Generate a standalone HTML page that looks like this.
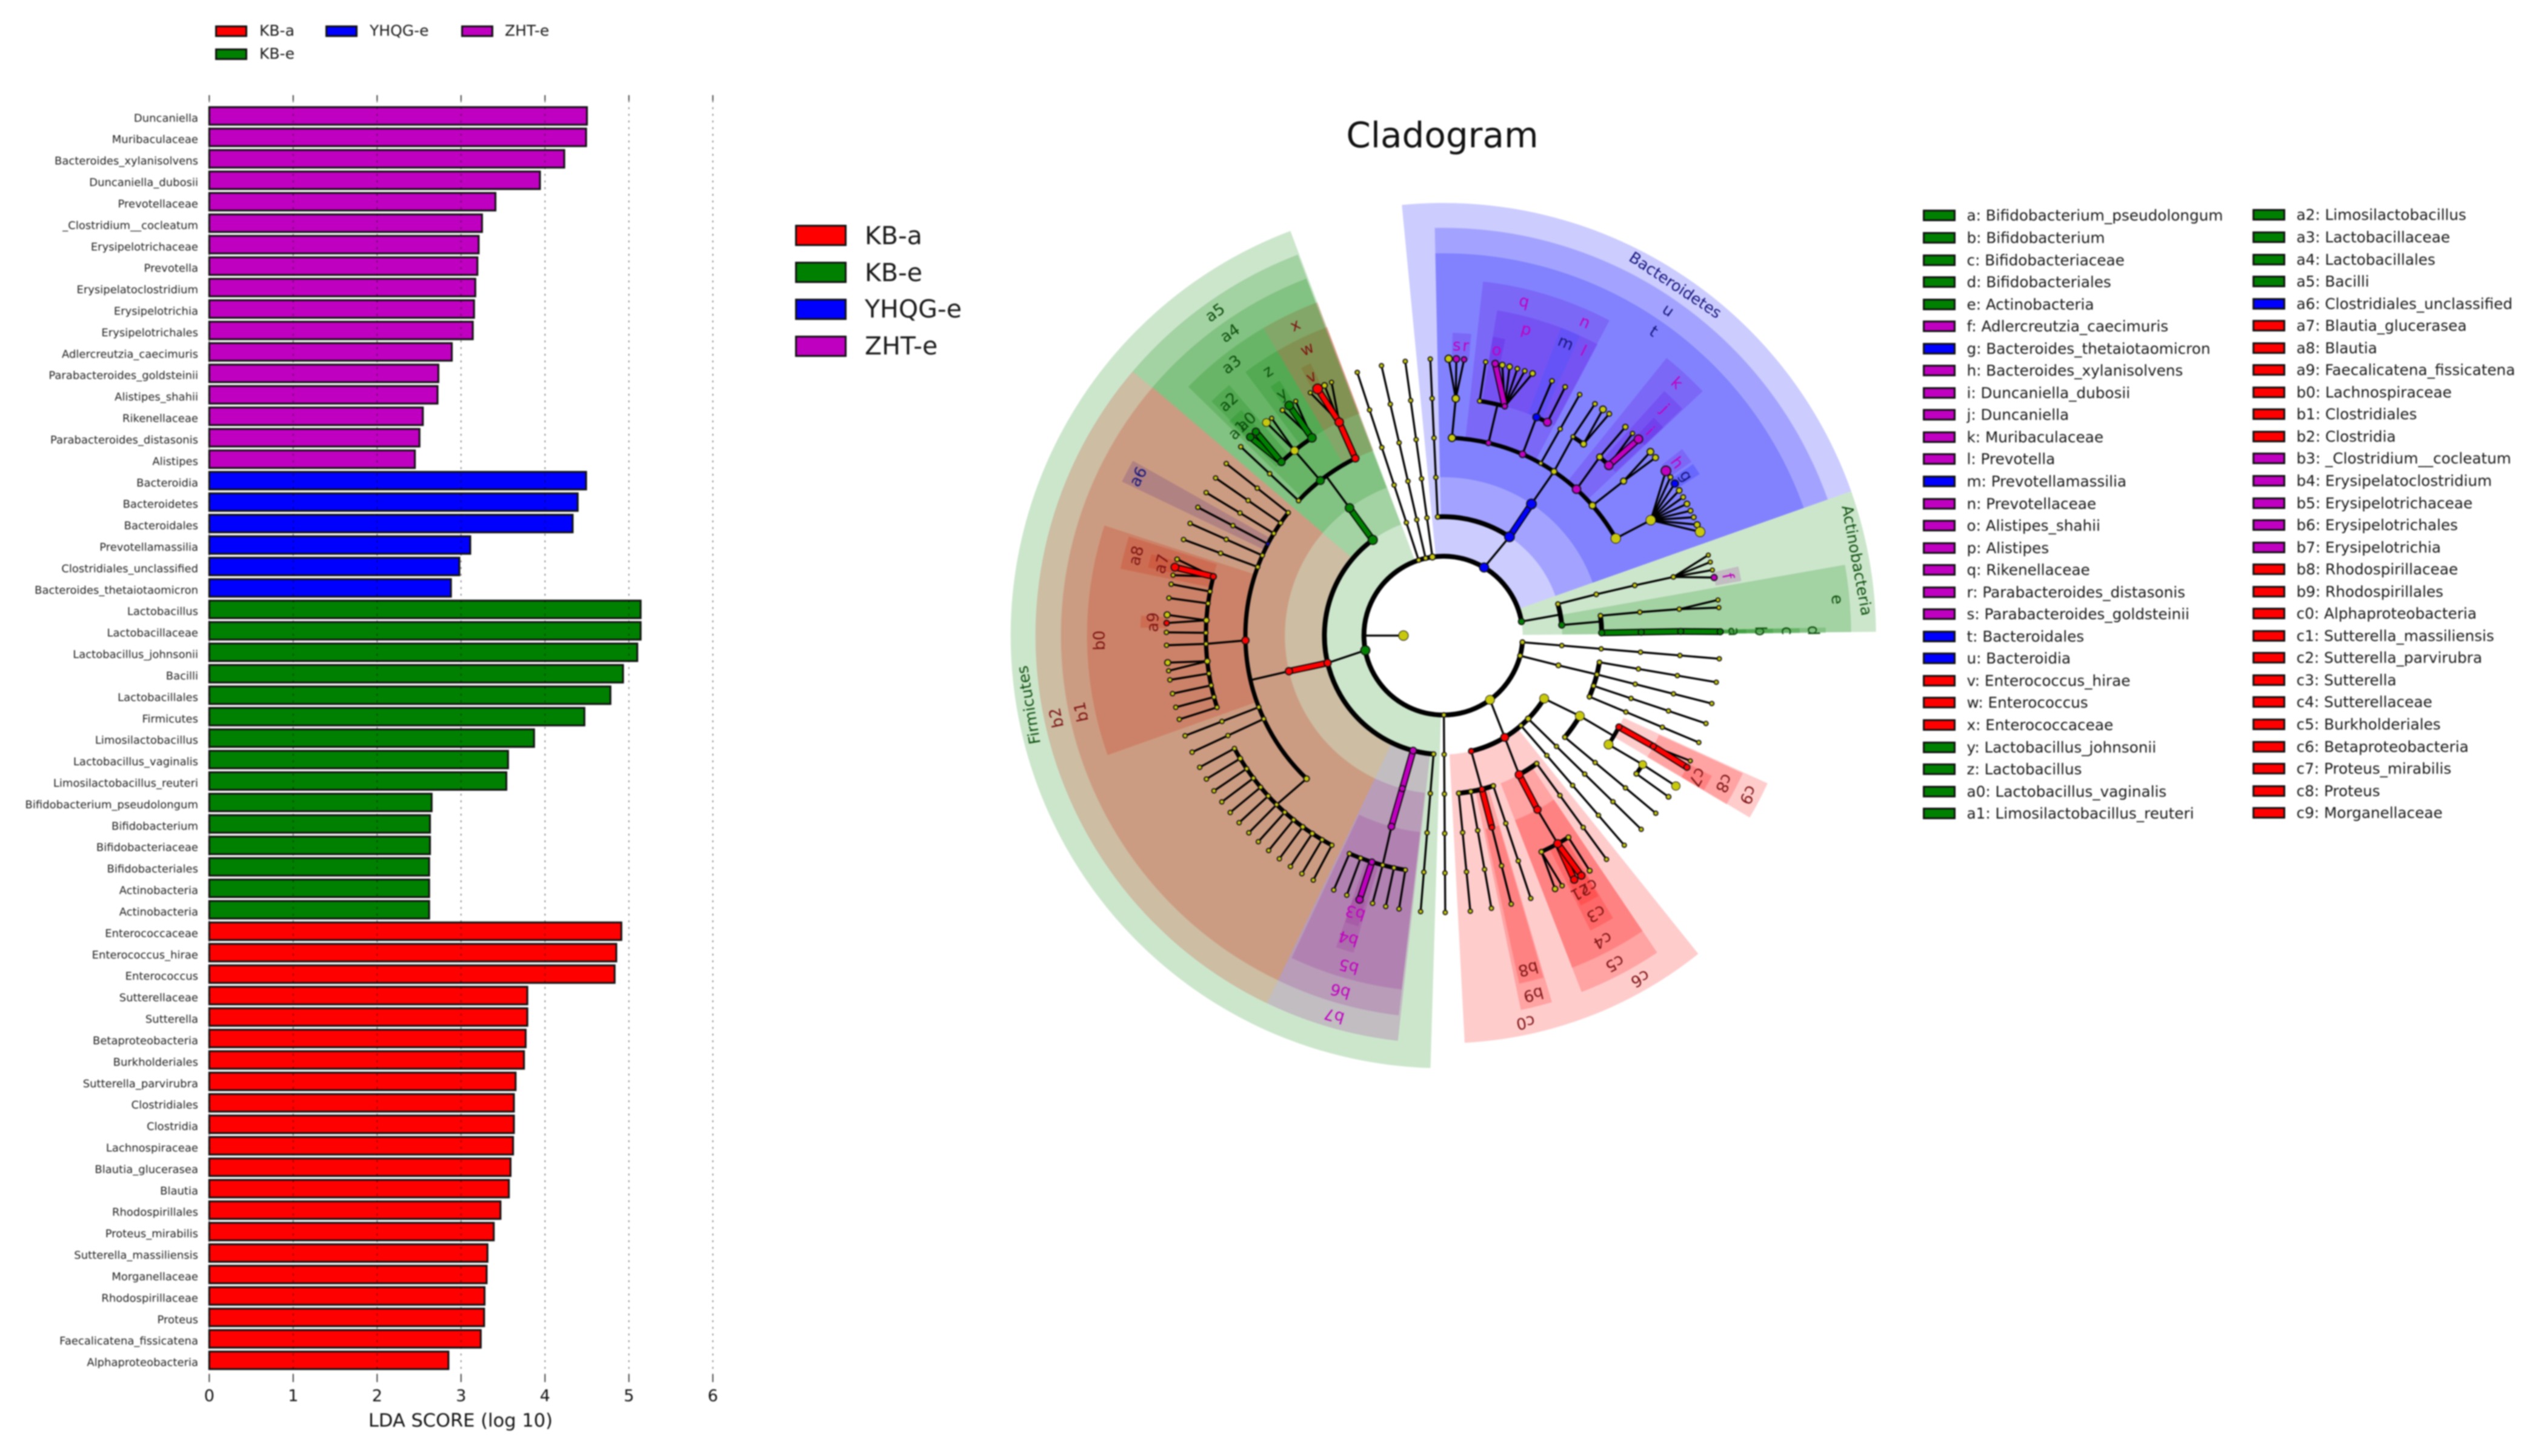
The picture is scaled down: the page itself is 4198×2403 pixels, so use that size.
<!DOCTYPE html>
<html lang="en">
<head>
<meta charset="utf-8">
<title>LEfSe LDA scores and cladogram</title>
<style>
html,body{margin:0;padding:0;background:#fff;}
#page{position:relative;width:4198px;height:2403px;overflow:hidden;background:#fff;filter:blur(1.1px);font-family:"DejaVu Sans","Liberation Sans",sans-serif;color:#1a1a1a;}
svg{position:absolute;left:0;top:0;}
.k{position:absolute;}
.sw{display:inline-block;box-sizing:border-box;border:3px solid #111;}
.r{background:#ff0000}.g{background:#008000}.b{background:#0000ff}.m{background:#c000c0}
.toplg{position:absolute;font-size:25px;line-height:24px;white-space:nowrap;}
.toplg .sw{position:absolute;left:0;top:0;width:53px;height:19px;}
.midlg{position:absolute;left:1312px;top:358.6px;font-size:41px;}
.midlg div{height:60.7px;display:flex;align-items:center;white-space:nowrap;}
.midlg .sw{width:85px;height:35px;margin-right:30px;}
.col{position:absolute;font-size:24.7px;}
.col div{height:36.55px;display:flex;align-items:center;white-space:nowrap;}
.col .sw{width:54px;height:19px;margin-right:18.5px;flex:none;}
</style>
</head>
<body>
<div id="page">
<svg id="chart" width="4198" height="2403" viewBox="0 0 4198 2403" xmlns="http://www.w3.org/2000/svg">
  <g id="bars"></g>
  <text x="760" y="2345" font-size="30.5" text-anchor="middle" dominant-baseline="central" fill="#111">LDA SCORE (log 10)</text>
  <text x="2380" y="223" font-size="58" text-anchor="middle" dominant-baseline="central" fill="#111">Cladogram</text>
  <g id="clado"></g>
</svg>

<div>
  <div class="toplg" style="left:355px;top:42px;height:20px"><span class="sw r"></span><span style="position:absolute;left:73px;top:-3px">KB-a</span></div>
  <div class="toplg" style="left:355px;top:80px;height:20px"><span class="sw g"></span><span style="position:absolute;left:73px;top:-3px">KB-e</span></div>
  <div class="toplg" style="left:537px;top:42px;height:20px"><span class="sw b"></span><span style="position:absolute;left:73px;top:-3px">YHQG-e</span></div>
  <div class="toplg" style="left:761px;top:42px;height:20px"><span class="sw m"></span><span style="position:absolute;left:72px;top:-3px">ZHT-e</span></div>
</div>

<div class="midlg">
  <div><span class="sw r"></span>KB-a</div>
  <div><span class="sw g"></span>KB-e</div>
  <div><span class="sw b"></span>YHQG-e</div>
  <div><span class="sw m"></span>ZHT-e</div>
</div>

<div class="col" style="left:3173px;top:337.7px">
  <div><span class="sw g"></span>a: Bifidobacterium_pseudolongum</div>
  <div><span class="sw g"></span>b: Bifidobacterium</div>
  <div><span class="sw g"></span>c: Bifidobacteriaceae</div>
  <div><span class="sw g"></span>d: Bifidobacteriales</div>
  <div><span class="sw g"></span>e: Actinobacteria</div>
  <div><span class="sw m"></span>f: Adlercreutzia_caecimuris</div>
  <div><span class="sw b"></span>g: Bacteroides_thetaiotaomicron</div>
  <div><span class="sw m"></span>h: Bacteroides_xylanisolvens</div>
  <div><span class="sw m"></span>i: Duncaniella_dubosii</div>
  <div><span class="sw m"></span>j: Duncaniella</div>
  <div><span class="sw m"></span>k: Muribaculaceae</div>
  <div><span class="sw m"></span>l: Prevotella</div>
  <div><span class="sw b"></span>m: Prevotellamassilia</div>
  <div><span class="sw m"></span>n: Prevotellaceae</div>
  <div><span class="sw m"></span>o: Alistipes_shahii</div>
  <div><span class="sw m"></span>p: Alistipes</div>
  <div><span class="sw m"></span>q: Rikenellaceae</div>
  <div><span class="sw m"></span>r: Parabacteroides_distasonis</div>
  <div><span class="sw m"></span>s: Parabacteroides_goldsteinii</div>
  <div><span class="sw b"></span>t: Bacteroidales</div>
  <div><span class="sw b"></span>u: Bacteroidia</div>
  <div><span class="sw r"></span>v: Enterococcus_hirae</div>
  <div><span class="sw r"></span>w: Enterococcus</div>
  <div><span class="sw r"></span>x: Enterococcaceae</div>
  <div><span class="sw g"></span>y: Lactobacillus_johnsonii</div>
  <div><span class="sw g"></span>z: Lactobacillus</div>
  <div><span class="sw g"></span>a0: Lactobacillus_vaginalis</div>
  <div><span class="sw g"></span>a1: Limosilactobacillus_reuteri</div>
</div>

<div class="col" style="left:3717px;top:336.7px">
  <div><span class="sw g"></span>a2: Limosilactobacillus</div>
  <div><span class="sw g"></span>a3: Lactobacillaceae</div>
  <div><span class="sw g"></span>a4: Lactobacillales</div>
  <div><span class="sw g"></span>a5: Bacilli</div>
  <div><span class="sw b"></span>a6: Clostridiales_unclassified</div>
  <div><span class="sw r"></span>a7: Blautia_glucerasea</div>
  <div><span class="sw r"></span>a8: Blautia</div>
  <div><span class="sw r"></span>a9: Faecalicatena_fissicatena</div>
  <div><span class="sw r"></span>b0: Lachnospiraceae</div>
  <div><span class="sw r"></span>b1: Clostridiales</div>
  <div><span class="sw r"></span>b2: Clostridia</div>
  <div><span class="sw m"></span>b3: _Clostridium__cocleatum</div>
  <div><span class="sw m"></span>b4: Erysipelatoclostridium</div>
  <div><span class="sw m"></span>b5: Erysipelotrichaceae</div>
  <div><span class="sw m"></span>b6: Erysipelotrichales</div>
  <div><span class="sw m"></span>b7: Erysipelotrichia</div>
  <div><span class="sw r"></span>b8: Rhodospirillaceae</div>
  <div><span class="sw r"></span>b9: Rhodospirillales</div>
  <div><span class="sw r"></span>c0: Alphaproteobacteria</div>
  <div><span class="sw r"></span>c1: Sutterella_massiliensis</div>
  <div><span class="sw r"></span>c2: Sutterella_parvirubra</div>
  <div><span class="sw r"></span>c3: Sutterella</div>
  <div><span class="sw r"></span>c4: Sutterellaceae</div>
  <div><span class="sw r"></span>c5: Burkholderiales</div>
  <div><span class="sw r"></span>c6: Betaproteobacteria</div>
  <div><span class="sw r"></span>c7: Proteus_mirabilis</div>
  <div><span class="sw r"></span>c8: Proteus</div>
  <div><span class="sw r"></span>c9: Morganellaceae</div>
</div>
</div>

<script>
/* ---------- LDA bar chart data ---------- */
const barLabels = ["Duncaniella","Muribaculaceae","Bacteroides_xylanisolvens","Duncaniella_dubosii","Prevotellaceae","_Clostridium__cocleatum","Erysipelotrichaceae","Prevotella","Erysipelatoclostridium","Erysipelotrichia","Erysipelotrichales","Adlercreutzia_caecimuris","Parabacteroides_goldsteinii","Alistipes_shahii","Rikenellaceae","Parabacteroides_distasonis","Alistipes","Bacteroidia","Bacteroidetes","Bacteroidales","Prevotellamassilia","Clostridiales_unclassified","Bacteroides_thetaiotaomicron","Lactobacillus","Lactobacillaceae","Lactobacillus_johnsonii","Bacilli","Lactobacillales","Firmicutes","Limosilactobacillus","Lactobacillus_vaginalis","Limosilactobacillus_reuteri","Bifidobacterium_pseudolongum","Bifidobacterium","Bifidobacteriaceae","Bifidobacteriales","Actinobacteria","Actinobacteria","Enterococcaceae","Enterococcus_hirae","Enterococcus","Sutterellaceae","Sutterella","Betaproteobacteria","Burkholderiales","Sutterella_parvirubra","Clostridiales","Clostridia","Lachnospiraceae","Blautia_glucerasea","Blautia","Rhodospirillales","Proteus_mirabilis","Sutterella_massiliensis","Morganellaceae","Rhodospirillaceae","Proteus","Faecalicatena_fissicatena","Alphaproteobacteria"];
const barValues = [4.50,4.49,4.23,3.94,3.41,3.25,3.21,3.195,3.17,3.155,3.14,2.89,2.73,2.72,2.545,2.505,2.45,4.49,4.39,4.33,3.11,2.98,2.88,5.14,5.14,5.10,4.93,4.78,4.47,3.87,3.56,3.54,2.65,2.63,2.63,2.62,2.62,2.62,4.91,4.85,4.83,3.79,3.79,3.77,3.75,3.65,3.63,3.63,3.62,3.59,3.57,3.47,3.39,3.315,3.305,3.28,3.275,3.235,2.85];
const barGroups = ["m","m","m","m","m","m","m","m","m","m","m","m","m","m","m","m","m","b","b","b","b","b","b","g","g","g","g","g","g","g","g","g","g","g","g","g","g","g","r","r","r","r","r","r","r","r","r","r","r","r","r","r","r","r","r","r","r","r","r"];
const tickValues = [0,1,2,3,4,5,6];

/* ---------- Cladogram data: angles in degrees clockwise from 12 o'clock ---------- */
/* Highlight wedges: [label, taxonomic level, start angle, end angle, group] */
const wedgeRows = [
 ["Firmicutes",0,181.7,339.3,"g"],["Bacteroidetes",0,-5.5,70.5,"b",33.5],["Actinobacteria",0,70.5,89.5,"g",79.7],
 ["a5",1,310.4,339.1,"g"],["b2",1,205.6,310.4,"r"],["b7",1,186.4,205.6,"m"],["u",1,-1.2,70.5,"b"],["e",1,80,89.5,"g"],["c6",1,141.3,159,"r"],["c0",1,159,177,"r"],
 ["t",2,-1.2,70.5,"b"],["a4",2,310.6,339,"g"],["b1",2,205.6,310.6,"r"],["b6",2,186.7,205.6,"m"],["d",2,88.8,89.6,"g"],["b9",2,163.5,168.3,"r"],["c5",2,146,158.8,"r"],
 ["q",3,6.4,20.8,"m"],["n",3,20.8,27.8,"m"],["k",3,38.8,46.7,"m"],["x",3,329.7,339.3,"r"],["a3",3,314.3,329.7,"g"],["b0",3,250.4,288,"r"],["a6",3,295.6,299.4,"b"],["b5",3,186.7,205.2,"m"],["b8",3,163.7,167.7,"r"],["c4",3,146,158.8,"r"],["c9",3,114.5,120.7,"r"],["c",3,88.8,89.6,"g"],
 ["p",4,9.4,20.9,"m"],["m",4,20.9,24.5,"b"],["l",4,24.5,27.9,"m"],["j",4,42.1,46.5,"m"],["w",4,329.8,339.4,"r"],["z",4,323.1,329.8,"g"],["a2",4,315.3,319.5,"g"],["a8",4,281.7,287.5,"r"],["c3",4,149,153.5,"r"],["b4",4,195.8,199,"m"],["c8",4,114.7,120.8,"r"],["b",4,88.8,89.6,"g"],
 ["s",5,1.75,3.55,"m"],["r",5,3.55,5.3,"m"],["o",5,9.4,11.8,"m"],["i",5,44,46.6,"m"],["h",5,52,55,"m"],["g",5,55.5,57.8,"b"],["f",5,76.8,79.6,"m"],["v",5,332,334,"r"],["y",5,325.2,327.3,"g"],["a0",5,316.6,318.2,"g"],["a1",5,315,316.6,"g",315],["a7",5,283,285.6,"r"],["a9",5,271.5,273.8,"r"],["b3",5,196.3,198.9,"m"],["c1",5,150.95,153,"r"],["c2",5,149.2,150.95,"r"],["c7",5,117.6,120.7,"r"],["a",5,88.8,89.6,"g"]
];
/* Taxon tree: [id, parent id, angle, group (y = not significant), marker size, flags]
   flags: T = thick significant branch from parent, C = unbranched chain out to species level, I = inner stub */
const cladeRows = [
 ["R0","",270,"y",8,"I"],["P1","",94.8,"y",4,"C"],["P2","",104.7,"y",4,""],["P3","",144,"y",7.5,""],["P4","",179.6,"y",3.8,"C"],
 ["FI","",259.3,"g",7.5,""],["X1","",341.9,"y",3.8,"C"],["X2","",347.1,"y",3.8,"C"],["X3","",352.1,"y",5,"C"],["BA","",30.9,"b",7.5,""],["AC","",79.8,"g",5,""],
 /* unclassified branch */
 ["p2a","P2",104.5,"y",4,""],["","p2a",99.7,"y",3.8,"C"],["","p2a",104.2,"y",3.8,"C"],["","p2a",108.5,"y",3.8,"C"],["","p2a",112.7,"y",3.8,"C"],
 /* Proteobacteria */
 ["c0","P3",166.4,"r",4.5,""],["c6","P3",148.9,"r",6.5,""],["","P3",139.2,"y",3.6,"C"],["","P3",134.4,"y",4.6,"C"],["gm","P3",122,"y",7.5,""],
 ["","c0",174.4,"y",3.8,"C"],["","c0",170,"y",3.8,"C"],["b9","c0",165.9,"r",4.5,""],["","c0",161.6,"y",3.8,"C"],["b8","b9",165.8,"r",4.5,"TC"],
 ["c5","c6",151.4,"r",6.5,""],["","c6",143.9,"y",3.8,"C"],["c4","c5",151.6,"r",6,"T"],["c3","c4",151.2,"r",6.5,""],["pa","c4",155.6,"y",4,""],["pb","c4",148.2,"y",4,""],
 ["c1","c3",151.8,"r",6,"T"],["c2","c3",150.1,"r",6,"T"],["","pa",156.2,"y",4.5,""],["","pa",154.6,"y",3.6,""],["","pb",148.1,"y",4,""],
 ["gm2","gm",120.5,"y",7.5,""],["","gm",129.9,"y",3.8,"C"],["c9","gm2",117.5,"r",5,""],["en","gm2",123.4,"y",7.5,""],
 ["c8","c9",117.8,"r",5,"T"],["c7","c8",118.4,"r",5,"T"],["","c8",116.9,"y",3.4,""],["e1","en",122.9,"y",6.5,""],["e2","en",125.6,"y",4,""],["","e1",122.9,"y",7,""],["","e2",125.6,"y",4,""],
 /* Firmicutes */
 ["b2","FI",256.7,"r",6,""],["","FI",184.7,"y",3.8,"C"],["b7","FI",194.7,"m",5.5,""],["a5","FI",323.6,"g",7.5,""],
 ["b6","b7",195,"m",5,"T"],["b5","b6",195.2,"m",5.5,"T"],
 ["","b5",203.3,"y",3.6,"C"],["","b5",200.4,"y",3.6,"C"],["b4","b5",197.5,"m",5,""],["","b5",194.8,"y",3.6,"C"],["","b5",192,"y",3.6,"C"],["","b5",189.2,"y",3.6,"C"],["b3","b4",197.6,"m",6,"T"],
 ["b1","b2",257,"r",6,"T"],
 ["","b1",308.4,"y",3.6,"C"],["","b1",304.7,"y",3.6,"C"],["","b1",301.1,"y",3.6,"C"],["a6","b1",297.6,"b",2.8,"C"],["","b1",293.9,"y",3.6,"C"],["","b1",290.3,"y",3.6,"C"],["b0","b1",268.6,"r",6,""],["","b1",248.8,"y",3.6,"C"],["","b1",245.1,"y",3.6,"C"],["ff","b1",223.7,"y",4.6,""],
 ["a8","b0",284.4,"r",5,""],["","b0",280.7,"y",3.6,"C"],["","b0",277.8,"y",3.6,"C"],["f1","b0",273.7,"y",4.6,""],["","b0",270.67,"y",3.6,"C"],["","b0",268,"y",3.6,"C"],["f2","b0",263.8,"y",4.6,""],["","b0",260.8,"y",3.6,"C"],["","b0",257.9,"y",3.6,"C"],["","b0",255,"y",3.6,"C"],["","b0",252.4,"y",3.6,"C"],
 ["a7","a8",284.3,"r",6.5,"T"],["","a8",286,"y",3.8,""],["","a8",282.6,"y",3.4,""],["","f1",274.3,"y",5,""],["a9","f1",272.6,"r",4.5,""],["","f2",264.4,"y",5,""],["","f2",262.7,"y",3.4,""],
 ["","ff",241.6,"y",3.6,"C"],["","ff",238.8,"y",4,"C"],["","ff",235.9,"y",3.6,"C"],["","ff",233.1,"y",3.6,"C"],["","ff",230.3,"y",3.6,"C"],["","ff",227.5,"y",3.6,"C"],["","ff",224.6,"y",3.6,"C"],["","ff",221.9,"y",3.6,"C"],["","ff",219.1,"y",3.6,"C"],["","ff",216.3,"y",4,"C"],["","ff",213.5,"y",4,"C"],["","ff",210.7,"y",3.6,"C"],["","ff",208,"y",3.6,"C"],
 ["a4","a5",323.7,"g",7,"T"],["","a4",313,"y",3.6,"C"],["a3","a4",321.6,"g",6.5,""],["x","a4",333.6,"r",6,""],
 ["w","x",334,"r",7,"T"],["v","w",333,"r",8,"T"],["","w",331.3,"y",3.4,""],["","w",334.6,"y",4.6,""],["","w",336.2,"y",3.4,""],
 ["a2","a3",317,"g",6,""],["s1","a3",321.2,"y",6.5,""],["z","a3",326.4,"g",7,""],
 ["a1","a2",315.8,"g",6,"T"],["a0","a2",317.4,"g",6,"T"],["","s1",320.3,"y",6.5,""],["","s1",321.7,"y",3.4,""],["","z",324.5,"y",3.8,""],["y","z",326.2,"g",7,"T"],["","z",327.8,"y",3.4,""],
 /* Bacteroidetes */
 ["","BA",-2.7,"y",3.8,"C"],["u","BA",33.8,"b",8,""],["t","u",33.8,"b",8,"T"],
 ["s0","t",2.5,"y",6,""],["q","t",13.2,"m",4.5,""],["n","t",23.6,"m",5.5,""],["","t",29.5,"y",3.4,"C"],["s3","t",34,"y",5,""],["k","t",42.3,"m",7,""],["s5","t",48.9,"y",5.5,""],["s6","t",60.6,"y",8,""],
 ["s0a","s0",3,"y",6,""],["","s0a",1.1,"y",6,""],["s","s0a",2.7,"m",5.5,""],["r","s0a",4.3,"m",4.5,""],
 ["","q",8.8,"y",3.6,"C"],["p","q",15,"m",4.5,""],["o","p",10.8,"m",5.5,"T"],["","p",12.3,"y",4.6,""],["","p",13.85,"y",4.6,""],["","p",15.5,"y",3.8,""],["","p",17.1,"y",3.8,""],["","p",18.8,"y",4.6,""],
 ["m","n",23.1,"b",6,""],["l","n",26,"m",6.5,""],["","m",23.1,"y",3.8,""],["","l",26.1,"y",3.8,""],
 ["t1","s3",33.1,"y",3.4,""],["t2","s3",36.2,"y",5,""],["","t1",33.2,"y",3.8,""],["","t2",35.2,"y",5.5,""],["","t2",36.8,"y",4,""],
 ["k1","k",41.2,"y",5,""],["j","k",44.2,"m",7,""],["","k1",41.1,"y",4.4,""],["","j",43.1,"y",3.4,""],["i","j",44.8,"m",7,"T"],
 ["s5a","s5",49.4,"y",5,""],["","s5a",48.4,"y",5.5,""],["","s5a",50,"y",5,""],
 ["s6a","s6",60.9,"y",8,""],["h","s6a",53.5,"m",8,""],["","s6a",55.1,"y",4,""],["g","s6a",56.7,"b",6,""],["","s6a",58.4,"y",4.6,""],["","s6a",60,"y",4,""],["","s6a",61.6,"y",4.6,""],["","s6a",63.2,"y",4,""],["","s6a",64.7,"y",4,""],["","s6a",66.4,"y",5,""],["","s6a",68,"y",8,""],
 /* Actinobacteria */
 ["a74","AC",74.6,"y",3.8,""],["e","AC",84.9,"g",5,""],["a75","a74",74.9,"y",3.8,""],["a76","a75",75.3,"y",3.8,""],["a77","a76",75.7,"y",3.8,""],
 ["","a77",73.1,"y",3.4,""],["","a77",74.6,"y",3.4,""],["","a77",76.3,"y",3.4,""],["f","a77",77.9,"m",5,""],
 ["e83","e",82.8,"y",3.8,""],["d","e",89,"g",5,""],["e84","e83",83.2,"y",3.6,""],["e85","e84",83.6,"y",3.6,""],["","e85",82.6,"y",3.4,""],["","e85",84.2,"y",3.4,""],
 ["c","d",89,"g",5,"T"],["b","c",89,"g",5,"T"],["a","b",89.2,"g",5,"T"]
];
/* Parents whose connecting branch joins a specific child */
const stubHubs = {BA:"u",FI:"b2",P3:"c6",c6:"c5"};

/* ---------- Axis functions ---------- */
const SVGNS = "http://www.w3.org/2000/svg";
const groupColors = {r:"#ff0000",g:"#008000",b:"#0000ff",m:"#c000c0",y:"#c8c80e"};
const labelColors = {r:"#7d1414",g:"#0d4f0d",b:"#16167d",m:"#c000c0"};
function xScale(v){return 345.3 + 138.5*v;}
function yScale(i){return 191.3 + 35.41*i;}
const CX = 2381.7, CY = 1049;
function levelRadius(l){return 131 + 65.2*l;}
const wedgeOuter = [714,673,631,588,544,500];
function polar(theta,r){const a=theta*Math.PI/180;return [CX+r*Math.sin(a),CY-r*Math.cos(a)];}
function make(tag,attrs,parent){const el=document.createElementNS(SVGNS,tag);for(const k in attrs){el.setAttribute(k,attrs[k]);}parent.appendChild(el);return el;}

/* ---------- Draw bars ---------- */
const barsRoot = document.getElementById("bars");
barLabels.forEach(function(label,i){
  const rect = make("rect",{x:xScale(0),y:yScale(i)-14.5,width:xScale(barValues[i])-xScale(0),height:29,fill:groupColors[barGroups[i]],stroke:"#111","stroke-width":3},barsRoot);
  
  
  const t = make("text",{x:327,y:yScale(i)+4,"font-size":18,"text-anchor":"end","dominant-baseline":"central",fill:"#222"},barsRoot);
  t.textContent = label;
  
  
});
tickValues.forEach(function(v){
  const x = xScale(v);
  const grid = make("line",{x1:x,x2:x,y1:166,y2:2268,stroke:"#000","stroke-opacity":0.55,"stroke-width":1.6,"stroke-dasharray":"3 8"},barsRoot);
  
  
  const tickTop = make("line",{x1:x,x2:x,y1:157,y2:166,stroke:"#333","stroke-width":1.8},barsRoot);
  
  
  const tickBottom = make("line",{x1:x,x2:x,y1:2268,y2:2281,stroke:"#333","stroke-width":1.8},barsRoot);
  
  
  const lab = make("text",{x:x,y:2304,"font-size":27,"text-anchor":"middle","dominant-baseline":"central",fill:"#111"},barsRoot);
  lab.textContent = v;
  
  
});

/* ---------- Draw cladogram ---------- */
const clado = document.getElementById("clado");
const wedgeLayer = make("g",{},clado);
const labelLayer = make("g",{},clado);
const lineLayer = make("g",{fill:"none","stroke-linecap":"round"},clado);
const thickLayer = make("g",{fill:"none"},clado);
const nodeLayer = make("g",{},clado);

function sectorPath(level,a0,a1){
  const r0=levelRadius(level), r1=wedgeOuter[level];
  const p1=polar(a0,r0),p2=polar(a0,r1),p3=polar(a1,r1),p4=polar(a1,r0);
  const big=(a1-a0)>180?1:0;
  return "M"+p1+"L"+p2+"A"+r1+" "+r1+" 0 "+big+" 1 "+p3+"L"+p4+"A"+r0+" "+r0+" 0 "+big+" 0 "+p1+"Z";
}
/* Deepest ranks are painted first so the phylum wash sits on top */
wedgeRows.slice().reverse().forEach(function(w){
  const sector = make("path",{d:sectorPath(w[1],w[2],w[3]),fill:groupColors[w[4]],"fill-opacity":0.2},wedgeLayer);
  
  
  const th = w.length>5 ? w[5] : (w[2]+w[3])/2;
  const pos = polar(th,wedgeOuter[w[1]]-21);
  const t = make("text",{x:pos[0],y:pos[1],"font-size":w[1]===0?25.5:26,"text-anchor":"middle","dominant-baseline":"central",fill:labelColors[w[4]],transform:"rotate("+th+" "+pos[0]+" "+pos[1]+")"},labelLayer);
  t.textContent = w[0];
  
  
});

/* Build tree from rows */
const byId = {};
const allNodes = [];
const roots = [];
cladeRows.forEach(function(row){
  const n = {id:row[0],theta:row[2],group:row[3],size:row[4],flags:row[5],kids:[],parent:null,level:0};
  if(row[1]){n.parent=byId[row[1]];n.level=n.parent.level+1;n.parent.kids.push(n);}
  else if(row[5].indexOf("I")>=0){n.level=-1;}
  else{roots.push(n);}
  if(row[0]){byId[row[0]]=n;}
  allNodes.push(n);
});
allNodes.slice().forEach(function(n){
  if(n.flags.indexOf("C")<0){return;}
  let cur=n;
  while(cur.level<5){
    const c={id:"",theta:n.theta,group:"y",size:3.6,flags:"",kids:[],parent:cur,level:cur.level+1};
    cur.kids.push(c);allNodes.push(c);cur=c;
  }
});

function addLine(th0,l0,th1,l1){
  const a=polar(th0,levelRadius(l0)),b=polar(th1,levelRadius(l1));
  const ln=make("line",{x1:a[0],y1:a[1],x2:b[0],y2:b[1],stroke:"#000","stroke-width":3.3},lineLayer);
  
  
}
function addArc(t0,t1,level,width){
  const r=levelRadius(level),a=polar(t0,r),b=polar(t1,r);
  const big=(t1-t0)>180?1:0;
  const arc=make("path",{d:"M"+a+"A"+r+" "+r+" 0 "+big+" 1 "+b,stroke:"#000","stroke-width":width,"stroke-linecap":"butt"},lineLayer);
  
  
}

/* Phylum ring */
const ringAngles = roots.map(function(n){return n.theta<94?n.theta+360:n.theta;});
addArc(Math.min.apply(null,ringAngles),Math.max.apply(null,ringAngles),0,8);

allNodes.forEach(function(n){
  if(n.level===-1){addLine(n.theta,-1,n.theta,0);return;}
  if(!n.kids.length){return;}
  const childLevel=n.level+1;
  if(childLevel===5){
    n.kids.forEach(function(c){
      if(c.flags.indexOf("T")<0){addLine(n.theta,n.level,c.theta,5);}
    });
    return;
  }
  const angles=n.kids.map(function(c){return c.theta;});
  const lo=Math.min.apply(null,angles),hi=Math.max.apply(null,angles);
  if(hi-lo>0.01){addArc(lo,hi,childLevel,childLevel<=2?8:7);}
  let hub=n.theta,best=1e9,bestKid=null;
  n.kids.forEach(function(c){const d=Math.abs(c.theta-n.theta);if(d<best){best=d;bestKid=c;}});
  const forced=stubHubs[n.id]?byId[stubHubs[n.id]]:null;
  if(forced){hub=forced.theta;}
  else if(n.theta<lo||n.theta>hi||best<=1.6){hub=bestKid.theta;}
  if(!(bestKid.flags.indexOf("T")>=0&&n.kids.length===1)){addLine(n.theta,n.level,hub,childLevel);}
});

/* Thick significant branches */
allNodes.forEach(function(n){
  if(n.flags.indexOf("T")<0){return;}
  const a=polar(n.parent.theta,levelRadius(n.parent.level)),b=polar(n.theta,levelRadius(n.level));
  const outer=make("line",{x1:a[0],y1:a[1],x2:b[0],y2:b[1],stroke:"#000","stroke-width":11},thickLayer);
  
  
  const inner=make("line",{x1:a[0],y1:a[1],x2:b[0],y2:b[1],stroke:groupColors[n.group],"stroke-width":7.5},thickLayer);
  
  
});

/* Nodes */
allNodes.forEach(function(n){
  const p=polar(n.theta,levelRadius(n.level));
  const dot=make("circle",{cx:p[0],cy:p[1],r:n.size,fill:groupColors[n.group],stroke:"#111","stroke-width":n.group==="y"&&n.size>6?1:1.8},nodeLayer);
  
  
});
</script>
</body>
</html>
